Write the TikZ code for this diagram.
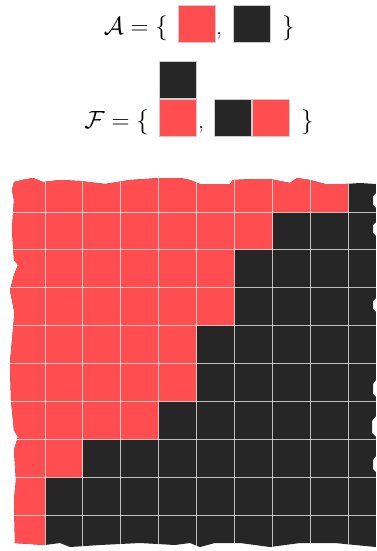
\documentclass[tikz,border=0pt]{standalone}
\definecolor{cred}{RGB}{255,77,80}
\definecolor{cblk}{RGB}{38,38,38}
\tikzset{
  sq/.style={draw=black!20, line width=0.8pt, minimum size=37pt, inner sep=0pt, outer sep=0pt},
  rsq/.style={sq, fill=cred},
  bsq/.style={sq, fill=cblk},
  mtext/.style={inner sep=0pt, font=\fontsize{24}{29}\selectfont},
  gridline/.style={white, opacity=0.7, line width=0.9pt}
}
\begin{document}
\begin{tikzpicture}[x=1pt,y=-1pt]
\useasboundingbox (0,0) rectangle (376,551);
% A row
\node[mtext, anchor=base east] (Alab) at (168,35) {$\mathcal{A}=\{$};
\node[rsq] (A1) at (196.5,23.5) {};
\node[mtext, anchor=base west] (Acomma) at (216,35) {,};
\node[bsq] (A2) at (252,23.5) {};
\node[mtext, anchor=base west] (Aclose) at (282,35) {$\}$};
% F row
\node[mtext, anchor=base east] (Flab) at (149,128) {$\mathcal{F}=\{$};
\node[bsq] (F1t) at (178,80) {};
\node[rsq] (F1b) at (178,117.5) {};
\node[mtext, anchor=base west] (Fcomma) at (198,128) {,};
\node[bsq] (F2l) at (233,117.5) {};
\node[rsq] (F2r) at (271,117.5) {};
\node[mtext, anchor=base west] (Fclose) at (301,128) {$\}$};
% grid
\begin{scope}
\clip (14,182) -- (22,180) -- (33,178) -- (43,182) -- (60,180) -- (80,181) -- (105,184)
 -- (130,180) -- (160,178) -- (180,178) -- (190,180) -- (200,184) -- (230,184) -- (233,180)
 -- (255,179) -- (270,179) -- (290,183) -- (297,178) -- (310,180) -- (325,184) -- (345,184)
 -- (360,183) -- (376,184)
 -- (376,193) -- (373,196) -- (373,205) -- (376,208) -- (376,222) -- (373,225) -- (373,233)
 -- (376,236) -- (376,298) -- (373,301) -- (373,309) -- (376,312) -- (376,380) -- (373,384)
 -- (373,394) -- (376,397) -- (376,416) -- (372,421) -- (372,433) -- (376,437) -- (376,456)
 -- (373,460) -- (373,469) -- (376,472) -- (376,547)
 -- (355,545) -- (335,543) -- (300,543) -- (270,547) -- (240,543) -- (215,543) -- (200,547)
 -- (190,543) -- (175,545) -- (140,543) -- (100,545) -- (70,547) -- (60,543) -- (45,545)
 -- (15,543)
 -- (14,500) -- (16,480) -- (14,450) -- (18,437) -- (14,430) -- (11,400) -- (10,363)
 -- (14,318) -- (14,310) -- (10,290) -- (14,275) -- (18,265) -- (14,260) -- (12,230)
 -- (14,200) -- (12,190) -- cycle;
\fill[cblk] (0,170) rectangle (380,555);
\fill[cred] (0,170) -- (348,170) -- (348,212) -- (272.25,212) -- (272.25,249.875)
 -- (234.375,249.875) -- (234.375,325.625) -- (196.5,325.625) -- (196.5,401.375)
 -- (158.625,401.375) -- (158.625,439.25) -- (82.875,439.25) -- (82.875,477.125)
 -- (45,477.125) -- (45,555) -- (0,555) -- cycle;
\foreach \k in {1,...,9}{
  \draw[gridline] ({7.125+37.875*\k},170) -- ({7.125+37.875*\k},555);
  \draw[gridline] (0,{174.125+37.875*\k}) -- (380,{174.125+37.875*\k});
}
\end{scope}
\end{tikzpicture}
\end{document}
